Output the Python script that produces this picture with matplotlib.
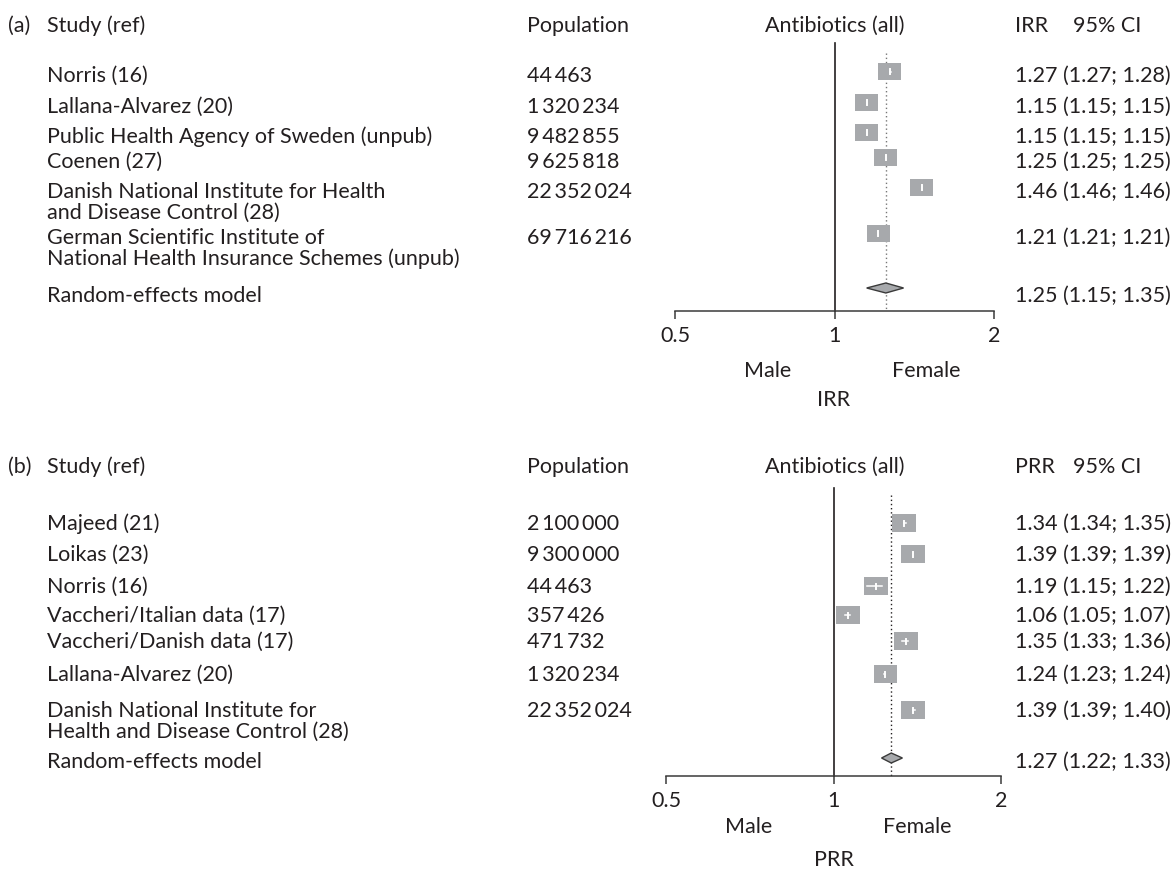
import matplotlib
matplotlib.use("Agg")
import matplotlib.pyplot as plt
from matplotlib.patches import Rectangle, Polygon
import numpy as np

# ---------------- data ----------------
studies_a = ["Norris (16)", "Lallana-Alvarez (20)", "Public Health Agency of Sweden (unpub)",
             "Coenen (27)", "Danish National Institute for Health\nand Disease Control (28)",
             "German Scientific Institute of\nNational Health Insurance Schemes (unpub)"]
pop_a = [44463, 1320234, 9482855, 9625818, 22352024, 69716216]
est_a = [1.27, 1.15, 1.15, 1.25, 1.46, 1.21]
lo_a = [1.27, 1.15, 1.15, 1.25, 1.46, 1.21]
hi_a = [1.28, 1.15, 1.15, 1.25, 1.46, 1.21]
re_a = (1.25, 1.15, 1.35)

studies_b = ["Majeed (21)", "Loikas (23)", "Norris (16)", "Vaccheri/Italian data (17)",
             "Vaccheri/Danish data (17)", "Lallana-Alvarez (20)",
             "Danish National Institute for\nHealth and Disease Control (28)"]
pop_b = [2100000, 9300000, 44463, 357426, 471732, 1320234, 22352024]
est_b = [1.34, 1.39, 1.19, 1.06, 1.35, 1.24, 1.39]
lo_b = [1.34, 1.39, 1.15, 1.05, 1.33, 1.23, 1.39]
hi_b = [1.35, 1.39, 1.22, 1.07, 1.36, 1.24, 1.40]
re_b = (1.27, 1.22, 1.33)

tick_vals = [0.5, 1, 2]
tick_labels = ["0.5", "1", "2"]

# ---------------- layout (pixels) ----------------
W, H = 1176, 871
FONT = "Lato"
FS = 15.5
TXT = "#231f20"
BOX = "#a7a9ac"
LINE_GAP = 21

fig = plt.figure(figsize=(W / 100, H / 100), dpi=100)


def fx(px):
    return px / W


def fy(py):
    return 1 - py / H


def fmt_pop(n):
    return f"{n:,}".replace(",", "\u2009")


def fmt_ci(e, l, h):
    return f"{e:.2f} ({l:.2f}; {h:.2f})"


def put(x, y, s, **kw):
    kw.setdefault("va", "baseline")
    for i, line in enumerate(s.split("\n")):
        fig.text(fx(x), fy(y + i * LINE_GAP), line, fontsize=FS, family=FONT, color=TXT, **kw)


def panel(letter, studies, pops, est, lo, hi, re, measure, L):
    hy = L["header"]
    put(8, hy, letter)
    put(47, hy, "Study (ref)")
    put(527, hy, "Population")
    put(835, hy, "Antibiotics (all)", ha="center")
    put(1015, hy, measure)
    put(1073, hy, "95% CI")

    rows = L["rows"]
    for name, p, e, l, h, ry in zip(studies, pops, est, lo, hi, rows):
        put(47, ry, name)
        put(527, ry, fmt_pop(p))
        put(1015, ry, fmt_ci(e, l, h))
    put(47, L["re"], "Random-effects model")
    put(1015, L["re"], fmt_ci(*re))

    x0, x1 = L["xpix"]
    ax = fig.add_axes([fx(x0), 0, fx(x1) - fx(x0), 1])
    ax.set_xscale("log", base=2)
    ax.set_xlim(0.5, 2)
    ax.set_ylim(H, 0)
    ax.patch.set_alpha(0)
    for s in ["top", "left", "right"]:
        ax.spines[s].set_visible(False)
    ax.spines["bottom"].set_position(("data", L["axis"]))
    ax.spines["bottom"].set_bounds(0.5, 2)
    ax.spines["bottom"].set_color("#3a3a3a")
    ax.spines["bottom"].set_linewidth(1.1)
    ax.set_yticks([])
    ax.set_xticks(tick_vals, tick_labels)
    ax.xaxis.set_minor_locator(matplotlib.ticker.NullLocator())
    ax.tick_params(axis="x", direction="out", length=5.5, width=1.1, color="#3a3a3a",
                   pad=5.5, labelsize=FS, labelcolor=TXT)
    for t in ax.get_xticklabels():
        t.set_fontfamily(FONT)

    ax.plot([1, 1], [L["vtop"], L["axis"]], color="#231f20", lw=1.2)
    ax.plot([re[0], re[0]], [L["dtop"], L["axis"]], color=L["dotcol"],
            lw=1.0, ls=(0, (1, 2)))

    half = 0.0715
    bh = L["bh"]
    for e, l, h, ry in zip(est, lo, hi, rows):
        cy = ry - L["box_off"]
        ax.add_patch(Rectangle((e * 2 ** -half, cy - bh / 2), e * 2 ** half - e * 2 ** -half, bh,
                               facecolor=BOX, edgecolor="none", zorder=3))
        if h > l:
            ax.plot([l, h], [cy, cy], color="white", lw=1.1, zorder=4)
        ax.plot([e, e], [cy - 2.5, cy + 2.5], color="white", lw=1.4, zorder=4)

    cy = L["re"] - L["dia_off"]
    dh = 5
    ax.add_patch(Polygon([(re[1], cy), (re[0], cy - dh), (re[2], cy), (re[0], cy + dh)],
                         closed=True, facecolor=BOX, edgecolor="#3a3a3a", lw=1.0, zorder=3))

    lab = L["lab"]
    put(L["male"], lab, "Male", ha="center", va="center")
    put(L["female"], lab, "Female", ha="center", va="center")
    put(834, L["mlab"], measure, ha="center", va="center")


layout_a = dict(header=32, rows=[82, 113, 143, 168, 198, 244], re=302, xpix=(675, 994),
                axis=311, vtop=43, dtop=53, dotcol="#777777", bh=17, box_off=10, dia_off=14,
                male=768, female=926, lab=371, mlab=400)
layout_b = dict(header=473, rows=[530, 561, 593, 622, 648, 681, 717], re=768, xpix=(666, 1001),
                axis=776, vtop=488, dtop=495, dotcol="#231f20", bh=18, box_off=7, dia_off=10,
                male=749, female=917, lab=827, mlab=860)

panel("(a)", studies_a, pop_a, est_a, lo_a, hi_a, re_a, "IRR", layout_a)
panel("(b)", studies_b, pop_b, est_b, lo_b, hi_b, re_b, "PRR", layout_b)

fig.savefig("out.png", dpi=100, facecolor="white")
